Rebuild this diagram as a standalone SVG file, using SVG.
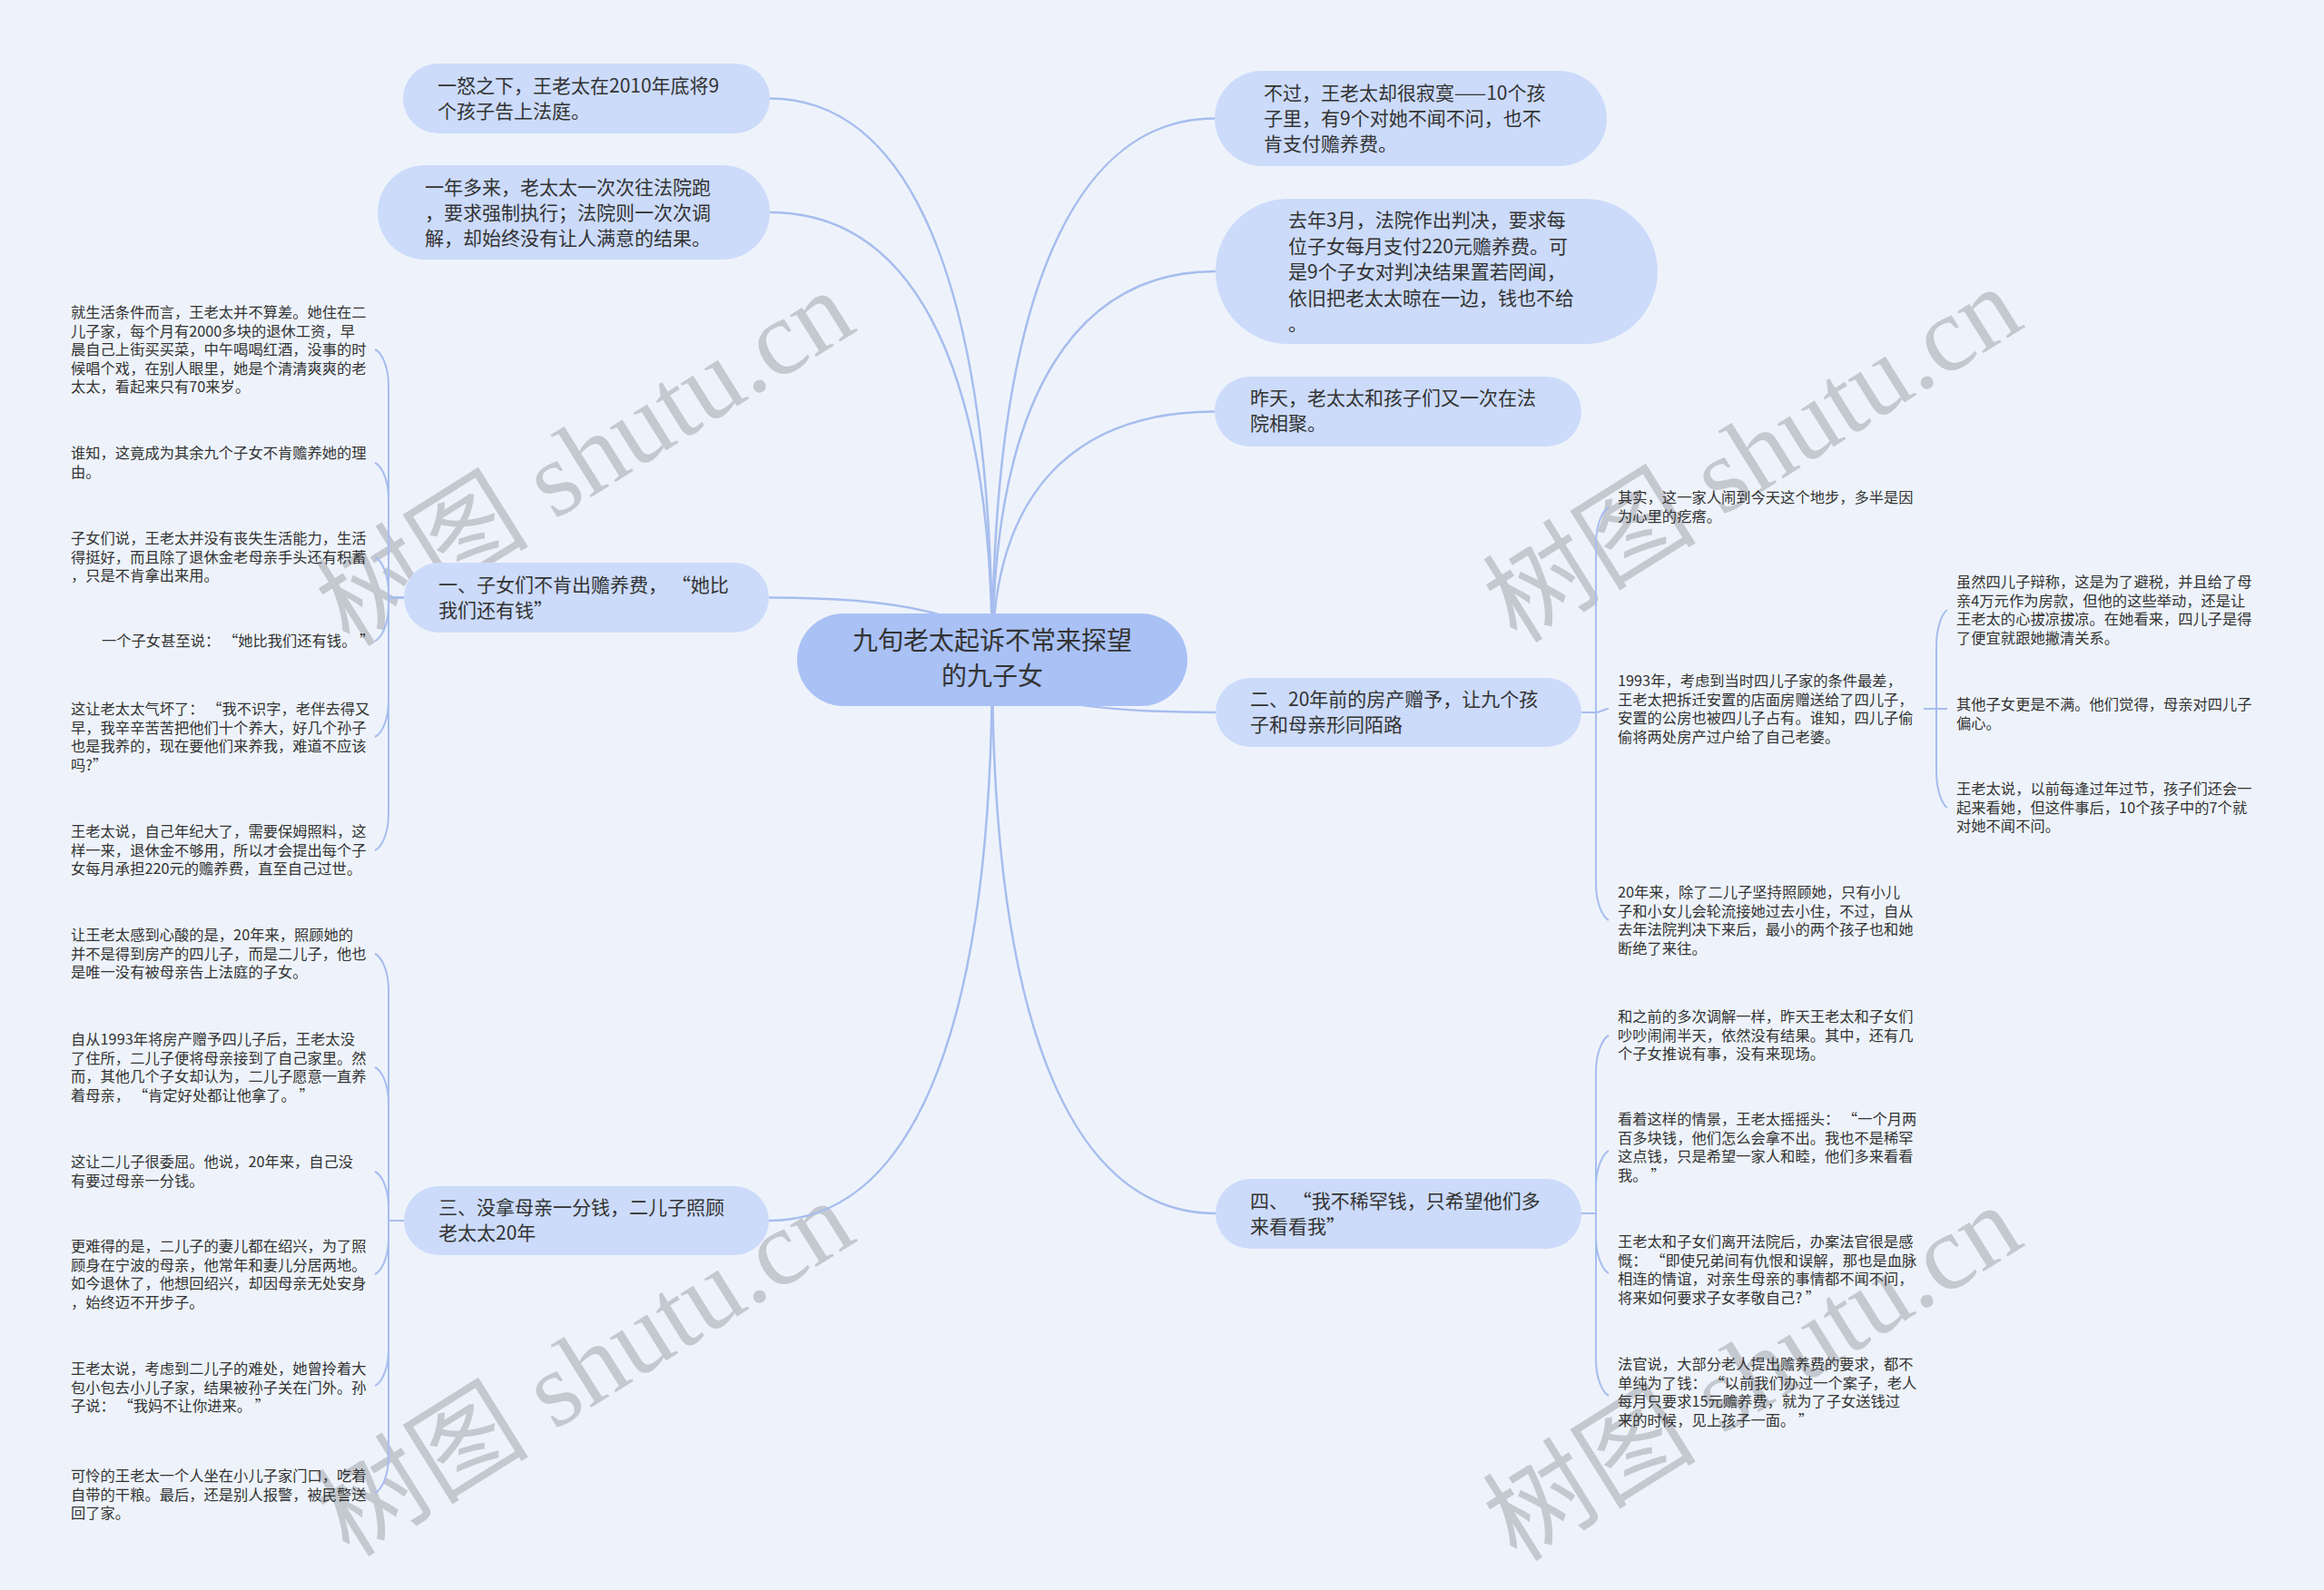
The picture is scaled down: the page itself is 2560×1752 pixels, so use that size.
<svg xmlns="http://www.w3.org/2000/svg" width="2560" height="1752" viewBox="0 0 2560 1752">
<style>
.wm{font-family:"Liberation Serif","Noto Sans CJK SC",serif;font-size:118px;fill:#c4c8cf}
.c{fill:none;stroke:#a7bdee;stroke-width:2.5}
.cl{fill:none;stroke:#a7bdee;stroke-width:2}
.n1{fill:#ccdbfa}
.root{fill:#a9c1f5}
.t1{font-family:"Noto Sans CJK SC","Noto Sans",sans-serif;font-size:21px;fill:#333}
.tr{font-family:"Noto Sans CJK SC","Noto Sans",sans-serif;font-size:28px;fill:#333;text-anchor:middle}
.lf{font-family:"Noto Sans CJK SC","Noto Sans",sans-serif;font-size:16.3px;fill:#333}
</style>
<rect x="0" y="0" width="2560" height="1752" fill="#eef3fb"/>
<g id="watermarks">
<text class="wm" x="644" y="545" text-anchor="middle" transform="rotate(-32 644 504)">树图 shutu.cn</text>
<text class="wm" x="1930" y="541" text-anchor="middle" transform="rotate(-32 1930 500)">树图 shutu.cn</text>
<text class="wm" x="644" y="1548" text-anchor="middle" transform="rotate(-32 644 1507)">树图 shutu.cn</text>
<text class="wm" x="1930" y="1553" text-anchor="middle" transform="rotate(-32 1930 1512)">树图 shutu.cn</text>
</g>
<g id="connectors">
<path class="c" d="M1093 727 C1093 294 995 108.5 848 108.5"/>
<path class="c" d="M1093 727 C1093 382 995 234 848 234"/>
<path class="c" d="M1093 727 C1093 679 995 658.5 847 658.5"/>
<path class="c" d="M1093 727 C1093 1160 995 1345 847 1345"/>
<path class="c" d="M1093 727 C1093 309 1191 130.5 1338 130.5"/>
<path class="c" d="M1093 727 C1093 427 1191 299 1339 299"/>
<path class="c" d="M1093 727 C1093 535 1191 453.5 1338 453.5"/>
<path class="c" d="M1093 727 C1093 768 1191 785 1339 785"/>
<path class="c" d="M1093 727 C1093 1154 1191 1337 1339 1337"/>
<path class="cl" d="M445 658.5 H428 V425 C428 403 420 388 413 385"/>
<path class="cl" d="M445 658.5 H428 V550 C428 528 420 513 413 510"/>
<path class="cl" d="M445 658.5 H428 V654 C428 632 420 617 413 614"/>
<path class="cl" d="M445 658.5 H428 V667 C428 689 420 703 413 706.5"/>
<path class="cl" d="M445 658.5 H428 V772 C428 794 420 809 413 812"/>
<path class="cl" d="M445 658.5 H428 V897 C428 919 420 934 413 937"/>
<path class="cl" d="M445 1345 H428 V1091 C428 1069 420 1054 413 1051"/>
<path class="cl" d="M445 1345 H428 V1216 C428 1194 420 1179 413 1176"/>
<path class="cl" d="M445 1345 H428 V1331 C428 1309 420 1294 413 1291"/>
<path class="cl" d="M445 1345 H428 V1364 C428 1386 420 1401 413 1404"/>
<path class="cl" d="M445 1345 H428 V1487 C428 1509 420 1524 413 1527"/>
<path class="cl" d="M445 1345 H428 V1605 C428 1627 420 1642 413 1645"/>
<path class="cl" d="M1742 785 H1758 V599 C1758 577 1766 562 1772 559"/>
<path class="cl" d="M1742 785 H1758 C1764 785 1766 781 1772 781"/>
<path class="cl" d="M1742 785 H1758 V974 C1758 996 1766 1011 1772 1014"/>
<path class="cl" d="M2119 781 H2133 V712 C2133 690 2140 675 2145 672"/>
<path class="cl" d="M2119 781 H2145"/>
<path class="cl" d="M2119 781 H2133 V850 C2133 872 2140 887 2145 890"/>
<path class="cl" d="M1742 1337 H1758 V1181 C1758 1159 1766 1144 1772 1141"/>
<path class="cl" d="M1742 1337 H1758 V1308 C1758 1286 1766 1271 1772 1268"/>
<path class="cl" d="M1742 1337 H1758 V1363 C1758 1385 1766 1400 1772 1403"/>
<path class="cl" d="M1742 1337 H1758 V1498 C1758 1520 1766 1535 1772 1538"/>
</g>
<g id="root">
<rect class="root" x="878" y="676" width="430" height="102" rx="51"/>
<text class="tr"><tspan x="1093" y="716">九旬老太起诉不常来探望</tspan><tspan x="1093" y="755">的九子女</tspan></text>
</g>
<g id="nodeA">
<rect class="n1" x="444" y="70" width="404" height="77" rx="38.5"/>
<text class="t1"><tspan x="482" y="102">一怒之下，王老太在2010年底将9</tspan><tspan x="482" y="130">个孩子告上法庭。</tspan></text>
</g>
<g id="nodeB">
<rect class="n1" x="416" y="182" width="432" height="104" rx="52"/>
<text class="t1"><tspan x="468" y="214">一年多来，老太太一次次往法院跑</tspan><tspan x="468" y="242">，要求强制执行；法院则一次次调</tspan><tspan x="468" y="270">解，却始终没有让人满意的结果。</tspan></text>
</g>
<g id="node1">
<rect class="n1" x="445" y="620" width="402" height="77" rx="38.5"/>
<text class="t1"><tspan x="483" y="652">一、子女们不肯出赡养费， “她比</tspan><tspan x="483" y="680">我们还有钱”</tspan></text>
</g>
<g id="node3">
<rect class="n1" x="445" y="1307" width="402" height="76" rx="38"/>
<text class="t1"><tspan x="483" y="1338">三、没拿母亲一分钱，二儿子照顾</tspan><tspan x="483" y="1366">老太太20年</tspan></text>
</g>
<g id="nodeC">
<rect class="n1" x="1338" y="78" width="432" height="105" rx="52.5"/>
<text class="t1"><tspan x="1392" y="110">不过，王老太却很寂寞——10个孩</tspan><tspan x="1392" y="138">子里，有9个对她不闻不问，也不</tspan><tspan x="1392" y="166">肯支付赡养费。</tspan></text>
</g>
<g id="nodeD">
<rect class="n1" x="1339" y="219" width="487" height="160" rx="80"/>
<text class="t1"><tspan x="1419" y="250">去年3月，法院作出判决，要求每</tspan><tspan x="1419" y="278.5">位子女每月支付220元赡养费。可</tspan><tspan x="1419" y="307">是9个子女对判决结果置若罔闻，</tspan><tspan x="1419" y="335.5">依旧把老太太晾在一边，钱也不给</tspan><tspan x="1419" y="364">。</tspan></text>
</g>
<g id="nodeE">
<rect class="n1" x="1338" y="415" width="404" height="77" rx="38.5"/>
<text class="t1"><tspan x="1377" y="446">昨天，老太太和孩子们又一次在法</tspan><tspan x="1377" y="474">院相聚。</tspan></text>
</g>
<g id="node2">
<rect class="n1" x="1339" y="747" width="403" height="76" rx="38"/>
<text class="t1"><tspan x="1377" y="778">二、20年前的房产赠予，让九个孩</tspan><tspan x="1377" y="806">子和母亲形同陌路</tspan></text>
</g>
<g id="node4">
<rect class="n1" x="1339" y="1299" width="403" height="77" rx="38.5"/>
<text class="t1"><tspan x="1377" y="1331">四、 “我不稀罕钱，只希望他们多</tspan><tspan x="1377" y="1359">来看看我”</tspan></text>
</g>
<g id="leafL1"><text class="lf"><tspan x="78" y="350">就生活条件而言，王老太并不算差。她住在二</tspan><tspan x="78" y="370.5">儿子家，每个月有2000多块的退休工资，早</tspan><tspan x="78" y="391">晨自己上街买买菜，中午喝喝红酒，没事的时</tspan><tspan x="78" y="411.5">候唱个戏，在别人眼里，她是个清清爽爽的老</tspan><tspan x="78" y="432">太太，看起来只有70来岁。</tspan></text></g>
<g id="leafL2"><text class="lf"><tspan x="78" y="505">谁知，这竟成为其余九个子女不肯赡养她的理</tspan><tspan x="78" y="525.5">由。</tspan></text></g>
<g id="leafL3"><text class="lf"><tspan x="78" y="599">子女们说，王老太并没有丧失生活能力，生活</tspan><tspan x="78" y="619.5">得挺好，而且除了退休金老母亲手头还有积蓄</tspan><tspan x="78" y="640">，只是不肯拿出来用。</tspan></text></g>
<g id="leafL4"><text class="lf"><tspan x="112" y="712">一个子女甚至说： “她比我们还有钱。 ”</tspan></text></g>
<g id="leafL5"><text class="lf"><tspan x="78" y="787">这让老太太气坏了： “我不识字，老伴去得又</tspan><tspan x="78" y="807.5">早，我辛辛苦苦把他们十个养大，好几个孙子</tspan><tspan x="78" y="828">也是我养的，现在要他们来养我，难道不应该</tspan><tspan x="78" y="848.5">吗?”</tspan></text></g>
<g id="leafL6"><text class="lf"><tspan x="78" y="922">王老太说，自己年纪大了，需要保姆照料，这</tspan><tspan x="78" y="942.5">样一来，退休金不够用，所以才会提出每个子</tspan><tspan x="78" y="963">女每月承担220元的赡养费，直至自己过世。</tspan></text></g>
<g id="leafL7"><text class="lf"><tspan x="78" y="1036">让王老太感到心酸的是，20年来，照顾她的</tspan><tspan x="78" y="1056.5">并不是得到房产的四儿子，而是二儿子，他也</tspan><tspan x="78" y="1077">是唯一没有被母亲告上法庭的子女。</tspan></text></g>
<g id="leafL8"><text class="lf"><tspan x="78" y="1151">自从1993年将房产赠予四儿子后，王老太没</tspan><tspan x="78" y="1171.5">了住所，二儿子便将母亲接到了自己家里。然</tspan><tspan x="78" y="1192">而，其他几个子女却认为，二儿子愿意一直养</tspan><tspan x="78" y="1212.5">着母亲， “肯定好处都让他拿了。 ”</tspan></text></g>
<g id="leafL9"><text class="lf"><tspan x="78" y="1286">这让二儿子很委屈。他说，20年来，自己没</tspan><tspan x="78" y="1306.5">有要过母亲一分钱。</tspan></text></g>
<g id="leafL10"><text class="lf"><tspan x="78" y="1379">更难得的是，二儿子的妻儿都在绍兴，为了照</tspan><tspan x="78" y="1399.5">顾身在宁波的母亲，他常年和妻儿分居两地。</tspan><tspan x="78" y="1420">如今退休了，他想回绍兴，却因母亲无处安身</tspan><tspan x="78" y="1440.5">，始终迈不开步子。</tspan></text></g>
<g id="leafL11"><text class="lf"><tspan x="78" y="1514">王老太说，考虑到二儿子的难处，她曾拎着大</tspan><tspan x="78" y="1534.5">包小包去小儿子家，结果被孙子关在门外。孙</tspan><tspan x="78" y="1555">子说： “我妈不让你进来。 ”</tspan></text></g>
<g id="leafL12"><text class="lf"><tspan x="78" y="1632">可怜的王老太一个人坐在小儿子家门口，吃着</tspan><tspan x="78" y="1652.5">自带的干粮。最后，还是别人报警，被民警送</tspan><tspan x="78" y="1673">回了家。</tspan></text></g>
<g id="leafR1"><text class="lf"><tspan x="1782" y="554">其实，这一家人闹到今天这个地步，多半是因</tspan><tspan x="1782" y="574.5">为心里的疙瘩。</tspan></text></g>
<g id="leafR2"><text class="lf"><tspan x="1782" y="756">1993年，考虑到当时四儿子家的条件最差，</tspan><tspan x="1782" y="776.5">王老太把拆迁安置的店面房赠送给了四儿子，</tspan><tspan x="1782" y="797">安置的公房也被四儿子占有。谁知，四儿子偷</tspan><tspan x="1782" y="817.5">偷将两处房产过户给了自己老婆。</tspan></text></g>
<g id="leafS1"><text class="lf"><tspan x="2155" y="647">虽然四儿子辩称，这是为了避税，并且给了母</tspan><tspan x="2155" y="667.5">亲4万元作为房款，但他的这些举动，还是让</tspan><tspan x="2155" y="688">王老太的心拔凉拔凉。在她看来，四儿子是得</tspan><tspan x="2155" y="708.5">了便宜就跟她撇清关系。</tspan></text></g>
<g id="leafS2"><text class="lf"><tspan x="2155" y="782">其他子女更是不满。他们觉得，母亲对四儿子</tspan><tspan x="2155" y="802.5">偏心。</tspan></text></g>
<g id="leafS3"><text class="lf"><tspan x="2155" y="875">王老太说，以前每逢过年过节，孩子们还会一</tspan><tspan x="2155" y="895.5">起来看她，但这件事后，10个孩子中的7个就</tspan><tspan x="2155" y="916">对她不闻不问。</tspan></text></g>
<g id="leafR3"><text class="lf"><tspan x="1782" y="989">20年来，除了二儿子坚持照顾她，只有小儿</tspan><tspan x="1782" y="1009.5">子和小女儿会轮流接她过去小住，不过，自从</tspan><tspan x="1782" y="1030">去年法院判决下来后，最小的两个孩子也和她</tspan><tspan x="1782" y="1050.5">断绝了来往。</tspan></text></g>
<g id="leafR5"><text class="lf"><tspan x="1782" y="1126">和之前的多次调解一样，昨天王老太和子女们</tspan><tspan x="1782" y="1146.5">吵吵闹闹半天，依然没有结果。其中，还有几</tspan><tspan x="1782" y="1167">个子女推说有事，没有来现场。</tspan></text></g>
<g id="leafR6"><text class="lf"><tspan x="1782" y="1239">看着这样的情景，王老太摇摇头： “一个月两</tspan><tspan x="1782" y="1259.5">百多块钱，他们怎么会拿不出。我也不是稀罕</tspan><tspan x="1782" y="1280">这点钱，只是希望一家人和睦，他们多来看看</tspan><tspan x="1782" y="1300.5">我。 ”</tspan></text></g>
<g id="leafR7"><text class="lf"><tspan x="1782" y="1374">王老太和子女们离开法院后，办案法官很是感</tspan><tspan x="1782" y="1394.5">慨： “即使兄弟间有仇恨和误解，那也是血脉</tspan><tspan x="1782" y="1415">相连的情谊，对亲生母亲的事情都不闻不问，</tspan><tspan x="1782" y="1435.5">将来如何要求子女孝敬自己? ”</tspan></text></g>
<g id="leafR8"><text class="lf"><tspan x="1782" y="1509">法官说，大部分老人提出赡养费的要求，都不</tspan><tspan x="1782" y="1529.5">单纯为了钱： “以前我们办过一个案子，老人</tspan><tspan x="1782" y="1550">每月只要求15元赡养费，就为了子女送钱过</tspan><tspan x="1782" y="1570.5">来的时候，见上孩子一面。 ”</tspan></text></g>
</svg>
